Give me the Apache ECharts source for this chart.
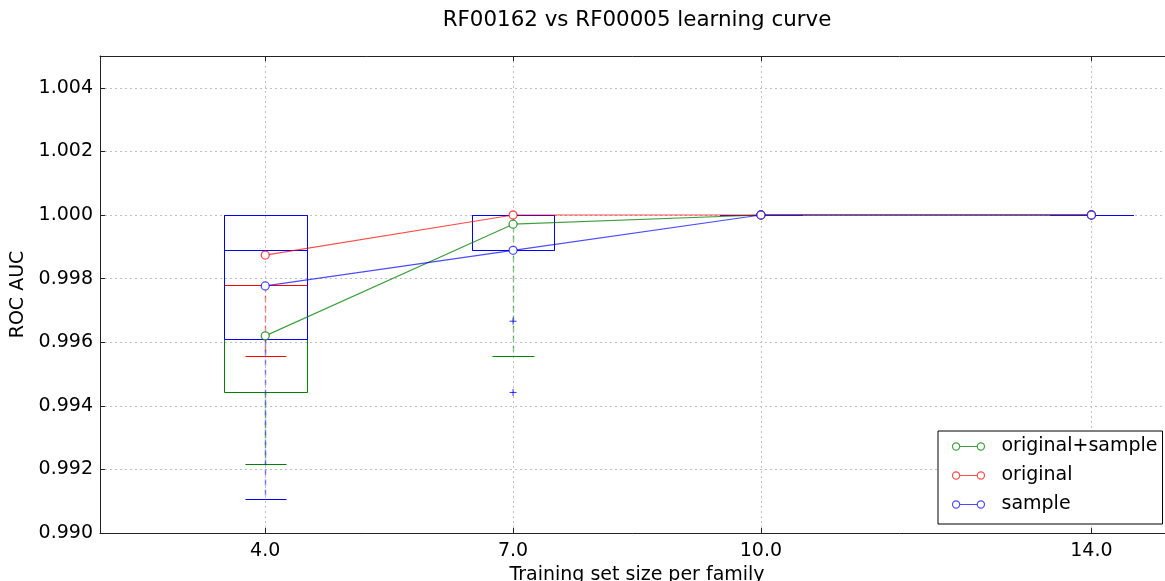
<!DOCTYPE html>
<html><head><meta charset="utf-8">
<script src="https://cdn.jsdelivr.net/npm/echarts@6/dist/echarts.min.js"></script>
<style>html,body{margin:0;padding:0;background:#fff}#c{width:1165px;height:581px}</style>
</head><body><div id="c"></div>
<script>
// ---- data ----
const sizes = [4, 7, 10, 14];
const xTickLabels = ['4.0', '7.0', '10.0', '14.0'];
const yTicks = [0.990, 0.992, 0.994, 0.996, 0.998, 1.000, 1.002, 1.004];
const seriesNames = ['original+sample', 'original', 'sample'];
// connecting-line values
const lineOrigSample = [0.99620, 0.99971, 1.000, 1.000];
const lineOrig = [0.99874, 1.000, 1.000, 1.000];
const lineSample = [0.99777, 0.99889, 1.000, 1.000];
// box stats per size: [low whisker, Q1, median, Q3, high whisker]
const boxOrigSample = [[0.99218, 0.99442, 0.99610, 1.000, 1.000], [0.99556, 1.000, 1.000, 1.000, 1.000], [1.000, 1.000, 1.000, 1.000, 1.000], [1.000, 1.000, 1.000, 1.000, 1.000]];
const boxOrig = [[0.99556, 0.99779, 0.99779, 1.000, 1.000], [1.000, 1.000, 1.000, 1.000, 1.000], [1.000, 1.000, 1.000, 1.000, 1.000], [1.000, 1.000, 1.000, 1.000, 1.000]];
const boxSample = [[0.99108, 0.99610, 0.99889, 1.000, 1.000], [0.99889, 0.99889, 0.99889, 1.000, 1.000], [1.000, 1.000, 1.000, 1.000, 1.000], [1.000, 1.000, 1.000, 1.000, 1.000]];
// outliers: [size, value]
const fliersSample = [[7, 0.99666], [7, 0.99442]];

// ---- styling ----
const COLORS = ['#008000', '#ff0000', '#0000ff'];
const WHISKER_COLORS = ['rgba(0,128,0,0.45)', 'rgba(255,0,0,0.45)', 'rgba(0,0,255,0.45)'];
const LINE_COLORS = ['rgba(0,128,0,0.75)', 'rgba(255,0,0,0.7)', 'rgba(0,0,255,0.7)'];
const FONT = 'DejaVu Sans';
const BOX_HALF = 0.5, CAP_HALF = 0.25;

function boxRenderer(color, wcolor) {
  return function (params, api) {
    const x = api.value(0);
    const lo = api.value(1), q1 = api.value(2), med = api.value(3), q3 = api.value(4), hi = api.value(5);
    const a = api.coord([x - BOX_HALF, q1]);
    const b = api.coord([x + BOX_HALF, q3]);
    const c = api.coord([x, 0]);
    const r = v => Math.round(v) + 0.5;
    const lineStyle = { stroke: color, lineWidth: 1, fill: null };
    const dashStyle = { stroke: wcolor, lineWidth: 1.5, lineDash: [6, 4], fill: null };
    const yOf = v => r(api.coord([x, v])[1]);
    const xl = r(a[0]), xr = r(b[0]), xc = r(c[0]);
    const capL = r(api.coord([x - CAP_HALF, 0])[0]), capR = r(api.coord([x + CAP_HALF, 0])[0]);
    const children = [
      { type: 'line', shape: { x1: xc, y1: yOf(q1), x2: xc, y2: yOf(lo) }, style: dashStyle },
      { type: 'line', shape: { x1: xc, y1: yOf(q3), x2: xc, y2: yOf(hi) }, style: dashStyle },
      { type: 'line', shape: { x1: capL, y1: yOf(lo), x2: capR, y2: yOf(lo) }, style: lineStyle },
      { type: 'line', shape: { x1: capL, y1: yOf(hi), x2: capR, y2: yOf(hi) }, style: lineStyle },
      { type: 'rect', shape: { x: xl, y: yOf(q3), width: xr - xl, height: yOf(q1) - yOf(q3) }, style: lineStyle },
      { type: 'line', shape: { x1: xl, y1: yOf(med), x2: xr, y2: yOf(med) }, style: lineStyle }
    ];
    return { type: 'group', children };
  };
}

const boxes = [boxOrigSample, boxOrig, boxSample];
const lines = [lineOrigSample, lineOrig, lineSample];
const series = [];
for (let i = 0; i < 3; i++) {
  series.push({
    type: 'custom', name: 'box' + i, renderItem: boxRenderer(COLORS[i], WHISKER_COLORS[i]),
    encode: { x: 0, y: [1, 2, 3, 4, 5] }, silent: true, z: 2 + i,
    data: sizes.map((s, k) => [s].concat(boxes[i][k]))
  });
}
series.push({
  type: 'scatter', name: 'fliers', silent: true, z: 6,
  symbol: 'path://M5,0L5,10M0,5L10,5', symbolSize: 7,
  itemStyle: { color: 'none', borderColor: COLORS[2], borderWidth: 1 },
  data: fliersSample
});
for (let i = 0; i < 3; i++) {
  series.push({
    type: 'line', name: seriesNames[i], z: 10 + i,
    symbol: 'circle', symbolSize: 8, showAllSymbol: true,
    itemStyle: { color: '#fff', borderColor: LINE_COLORS[i], borderWidth: 1.3 },
    lineStyle: { color: LINE_COLORS[i], width: 1.2 },
    emphasis: { disabled: true },
    data: sizes.map((s, k) => [s, lines[i][k]])
  });
}

const legendIcon = 'path://M0.5,4A3.5,3.5,0,1,1,7.5,4A3.5,3.5,0,1,1,0.5,4ZM7.5,4L24.5,4M24.5,4A3.5,3.5,0,1,1,31.5,4A3.5,3.5,0,1,1,24.5,4Z';

const chart = echarts.init(document.getElementById('c'), null, { renderer: 'canvas' });
chart.setOption({
  animation: false,
  backgroundColor: '#fff',
  textStyle: { fontFamily: FONT },
  title: {
    text: 'RF00162 vs RF00005 learning curve', left: 632, top: 5, textAlign: 'center',
    textStyle: { fontFamily: FONT, fontSize: 21.4, fontWeight: 'normal', color: '#000' }
  },
  legend: {
    orient: 'vertical', left: 938, top: 431, selectedMode: false,
    padding: [6, 5, 10, 12], itemGap: 10, itemWidth: 32, itemHeight: 8,
    borderColor: '#000', borderWidth: 1, backgroundColor: '#fff', borderRadius: 0,
    icon: legendIcon,
    textStyle: { fontFamily: FONT, fontSize: 19, color: '#000', lineHeight: 19, padding: [0, 0, 0, 12] },
    data: seriesNames.map((n, i) => ({ name: n, itemStyle: { color: 'none', borderColor: LINE_COLORS[i], borderWidth: 1.2 } }))
  },
  grid: { left: 100, top: 56, width: 1074, height: 477, containLabel: false, outerBoundsMode: 'none' },
  xAxis: [{
    type: 'value', min: 2, max: 15, position: 'bottom',
    name: 'Training set size per family', nameLocation: 'middle', nameGap: 31,
    nameTextStyle: { fontFamily: FONT, fontSize: 19, color: '#000' },
    axisLine: { onZero: false, lineStyle: { color: '#222', width: 1 } },
    axisTick: { inside: true, length: 5, customValues: sizes, lineStyle: { color: '#222' } },
    axisLabel: { customValues: sizes, margin: 9, fontFamily: FONT, fontSize: 19, color: '#000',
      formatter: v => xTickLabels[sizes.indexOf(v)] },
    splitLine: { show: true, lineStyle: { color: '#c0c0c0', type: [2, 3], width: 1 } }
  }, {
    type: 'value', min: 2, max: 15, position: 'top',
    axisLine: { onZero: false, lineStyle: { color: '#222', width: 1 } },
    axisTick: { inside: true, length: 5, customValues: sizes, lineStyle: { color: '#222' } },
    axisLabel: { show: false }, splitLine: { show: false }
  }],
  yAxis: [{
    type: 'value', min: 0.990, max: 1.005,
    name: 'ROC AUC', nameLocation: 'middle', nameGap: 65,
    nameTextStyle: { fontFamily: FONT, fontSize: 19, color: '#000' },
    axisLine: { show: true, onZero: false, lineStyle: { color: '#222', width: 1 } },
    axisTick: { show: true, inside: true, length: 5, customValues: yTicks, lineStyle: { color: '#222' } },
    axisLabel: { customValues: yTicks, margin: 7, fontFamily: FONT, fontSize: 19, color: '#000',
      formatter: v => v.toFixed(3) },
    splitLine: { show: true, lineStyle: { color: '#c0c0c0', type: [2, 3], width: 1 } }
  }],
  series
});
</script>
</body></html>
